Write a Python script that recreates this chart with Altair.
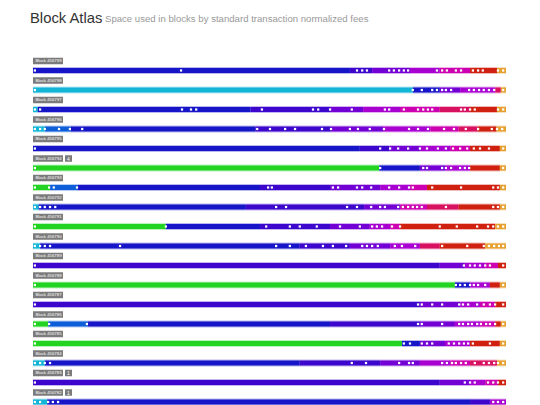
import altair as alt
import pandas as pd

# ---------------- data ----------------
blocks = [456799, 456798, 456797, 456796, 456795, 456794, 456793, 456792, 456791,
          456790, 456789, 456788, 456787, 456786, 456785, 456784, 456783, 456782]
badges = ["", "", "", "", "", "4", "", "", "", "", "", "", "", "", "", "", "1", "1"]

# fee bins (low -> high) and their colours
fee_bins = [0, 1, 2, 3, 4, 5, 6, 7, 8, 9, 10]
fee_colors = ["#12b5d5", "#22d322", "#0d5ed8", "#1616c8", "#3c06cc", "#7200d4",
              "#a800d0", "#cc00b0", "#d81060", "#d02010", "#e6a030"]

# per block: fee bin of each run of space and where (percent of block) it ends
seg_bins = [
    [3, 4, 5, 6, 7, 9, 10],
    [0, 3, 5, 6, 8, 10],
    [0, 3, 4, 5, 6, 7, 8, 9, 10],
    [0, 2, 3, 4, 5, 6, 7, 8, 9, 10],
    [3, 4, 5, 6, 7, 9, 10],
    [1, 3, 5, 6, 9, 10],
    [1, 2, 3, 4, 5, 6, 7, 9, 10],
    [0, 3, 4, 5, 7, 8, 9, 10],
    [1, 3, 4, 5, 6, 7, 9, 10],
    [0, 3, 4, 5, 6, 8, 9, 10],
    [4, 5, 6, 7, 9],
    [1, 3, 6, 9, 10],
    [4, 5, 6, 7, 9],
    [1, 2, 3, 4, 5, 6, 7, 9, 10],
    [1, 3, 5, 6, 9, 10],
    [0, 3, 4, 5, 6, 7, 8, 10],
    [4, 5, 6, 7, 9],
    [0, 3, 4, 6],
]
seg_ends = [
    [67.0, 71.7, 79.7, 86.0, 92.4, 98.1, 100],
    [80.3, 86.0, 90.3, 97.7, 98.9, 100],
    [1.0, 46, 62.8, 69.8, 77.6, 86.0, 92.4, 98.1, 100],
    [2.5, 8, 47, 63, 74, 84, 90, 94, 98, 100],
    [69.1, 75.4, 81.8, 88.2, 92.4, 98.7, 100],
    [73.2, 81.8, 87.1, 92.4, 98.7, 100],
    [3.6, 9.5, 48, 62.8, 73.4, 79.7, 83.3, 98.7, 100],
    [1.2, 45, 70, 77.6, 83.3, 90, 98.7, 100],
    [28.1, 48, 62.8, 71.2, 75.5, 77.6, 97.7, 100],
    [1.5, 56.4, 67, 75.5, 81.8, 86, 95.6, 100],
    [86, 91.3, 95.6, 98.3, 100],
    [89.2, 92.4, 96.6, 98.7, 100],
    [81.8, 90.3, 94.5, 97.7, 100],
    [3.2, 11.6, 62.8, 81.8, 89.2, 94.5, 97.7, 98.9, 100],
    [78, 81.8, 87.1, 92.4, 98.7, 100],
    [2.5, 56.4, 73.4, 81.8, 88.2, 92.4, 98.1, 100],
    [86, 92.4, 95.6, 98.3, 100],
    [3, 92.4, 96.6, 100],
]
# transaction markers (percent of block)
tx_marks = [
    [0.4, 31.3, 68.5, 69.6, 70.6, 75.3, 76.3, 77.4, 78.4, 79.3, 85.4, 86.5, 87.5, 89.4, 90.5, 93.0, 94.1, 95.1, 98.3, 99.4],
    [0.4, 80.3, 82.2, 84.4, 85.4, 86.5, 87.3, 88.4, 92.2, 93.2, 94.3, 95.3, 96.4, 97.5, 99.4],
    [0.4, 1.5, 31.5, 33.4, 34.5, 48.4, 59.2, 60.3, 62.8, 67.4, 74.4, 75.3, 78.4, 81.4, 82.5, 83.5, 84.4, 90.5, 91.3, 92.4, 93.4, 98.3, 99.4],
    [0.4, 1.5, 2.5, 5.5, 7.8, 10.4, 47.4, 50.1, 53.3, 55.4, 61.1, 63.0, 67.0, 68.7, 71.2, 74.2, 79.5, 81.4, 83.5, 86.9, 89.0, 91.5, 94.1, 97.0, 98.1, 99.2],
    [0.4, 73.4, 75.5, 77.2, 79.3, 81.8, 83.3, 85.6, 87.3, 88.8, 90.3, 91.8, 93.2, 94.5, 96.4, 99.4],
    [0.4, 73.4, 82.5, 83.3, 86.5, 87.3, 88.4, 90.3, 91.3, 92.2, 99.4],
    [0.4, 3.4, 4.4, 9.3, 49.7, 50.5, 63.4, 64.5, 68.5, 69.6, 71.5, 75.3, 77.4, 79.5, 80.3, 84.4, 90.5, 97.3, 98.3, 99.4],
    [0.4, 1.5, 2.5, 3.6, 4.7, 51.4, 53.5, 66.4, 68.5, 71.5, 73.4, 74.4, 77.2, 78.2, 79.3, 80.3, 81.2, 82.2, 87.3, 97.3, 98.3, 99.4],
    [0.4, 28.1, 49.3, 54.3, 56.4, 60.0, 64.9, 69.1, 71.7, 72.7, 73.8, 75.9, 77.6, 86.0, 89.6, 93.9, 96.2, 97.3, 98.3, 99.4],
    [0.4, 1.5, 2.5, 3.6, 18.4, 51.4, 54.3, 57.7, 61.3, 63.4, 66.2, 69.6, 70.6, 71.7, 72.9, 76.5, 78.0, 80.8, 86.5, 91.8, 95.3, 96.4, 97.5, 98.5, 99.4],
    [0.4, 91.1, 92.4, 93.4, 94.5, 95.6, 96.6, 99.4],
    [0.4, 89.4, 90.3, 91.3, 92.4, 93.2, 94.1, 95.6, 99.4],
    [0.4, 81.4, 82.2, 84.4, 86.5, 90.1, 90.9, 92.0, 93.9, 95.3, 96.6, 97.7, 99.4],
    [0.4, 3.4, 11.4, 81.4, 82.2, 86.5, 90.1, 90.9, 92.0, 92.8, 93.9, 94.7, 95.8, 96.6, 97.7, 99.4],
    [0.4, 78.4, 79.7, 82.2, 83.3, 84.4, 87.9, 89.0, 90.1, 91.1, 92.0, 93.0, 96.6, 99.4],
    [0.4, 1.5, 2.5, 3.6, 67.4, 70.4, 77.4, 79.5, 80.3, 86.5, 87.5, 88.6, 89.4, 90.5, 91.5, 93.4, 95.3, 96.4, 97.5, 98.3, 99.4],
    [0.4, 91.3, 92.4, 93.4, 96.2, 97.3, 98.3, 99.4],
    [0.4, 1.5, 3.2, 4.2, 5.3, 97.3, 98.3, 99.4],
]

title_text = "Block Atlas"
subtitle_text = "Space used in blocks by standard transaction normalized fees"

# ---------------- tables ----------------
seg_rows = []
for r, (bins, ends) in enumerate(zip(seg_bins, seg_ends)):
    s = 0.0
    for b, e in zip(bins, ends):
        seg_rows.append({"r": r, "start": s, "end": e, "bin": b})
        s = e
seg_df = pd.DataFrame(seg_rows)

dot_df = pd.DataFrame([{"r": r, "pos": p} for r, ps in enumerate(tx_marks) for p in ps])
lab_df = pd.DataFrame({"r": list(range(len(blocks))),
                       "label": [f"Block {b}" for b in blocks],
                       "badge": badges})
badge_df = lab_df[lab_df["badge"] != ""]
title_df = pd.DataFrame({"t": [title_text], "s": [subtitle_text]})

FONT = "Liberation Sans"
xs = alt.Scale(domain=[0, 100])
ys = alt.Scale(domain=[0, 18], reverse=True)
color = alt.Color("bin:O", scale=alt.Scale(domain=fee_bins, range=fee_colors), legend=None)

glow = alt.Chart(seg_df).mark_rule(strokeWidth=7, opacity=0.3, yOffset=14.5, strokeCap="butt").encode(
    x=alt.X("start:Q", scale=xs, axis=None), x2="end:Q",
    y=alt.Y("r:Q", scale=ys, axis=None), color=color)
bars = alt.Chart(seg_df).mark_rule(strokeWidth=5, yOffset=14.5, strokeCap="butt").encode(
    x=alt.X("start:Q", scale=xs, axis=None), x2="end:Q",
    y=alt.Y("r:Q", scale=ys, axis=None), color=color)
dots = alt.Chart(dot_df).mark_square(size=5, color="white", opacity=1, yOffset=14.5).encode(
    x=alt.X("pos:Q", scale=xs, axis=None), y=alt.Y("r:Q", scale=ys, axis=None))

lab_box = alt.Chart(lab_df).mark_rule(strokeWidth=6.5, color="#7b7b7b", yOffset=5, strokeCap="butt").encode(
    x=alt.value(0), x2=alt.value(30), y=alt.Y("r:Q", scale=ys, axis=None))
lab_txt = alt.Chart(lab_df).mark_text(align="left", baseline="middle", fontSize=4.3, color="white",
                                      dx=2.5, yOffset=5, font=FONT).encode(
    x=alt.value(0), y=alt.Y("r:Q", scale=ys, axis=None), text="label:N")
bdg_box = alt.Chart(badge_df).mark_rule(strokeWidth=6.5, color="#7b7b7b", yOffset=5, strokeCap="butt").encode(
    x=alt.value(32), x2=alt.value(39), y=alt.Y("r:Q", scale=ys, axis=None))
bdg_txt = alt.Chart(badge_df).mark_text(align="center", baseline="middle", fontSize=5, color="white",
                                        yOffset=5, font=FONT).encode(
    x=alt.value(35.5), y=alt.Y("r:Q", scale=ys, axis=None), text="badge:N")

ttl = alt.Chart(title_df).mark_text(align="left", baseline="alphabetic", fontSize=14.8, color="#333333",
                                    font=FONT).encode(x=alt.value(-3), y=alt.value(-33.5), text="t:N")
sub = alt.Chart(title_df).mark_text(align="left", baseline="alphabetic", fontSize=9.6, color="#999999",
                                    font=FONT).encode(x=alt.value(72), y=alt.value(-34), text="s:N")

chart = alt.layer(glow, bars, dots, lab_box, lab_txt, bdg_box, bdg_txt, ttl, sub).properties(
    width=473, height=351, autosize="none",
    padding={"left": 25, "top": 48, "right": 20, "bottom": 0},
).configure_view(stroke=None)

chart.save("out.html", embed_options={"renderer": "svg", "actions": False})
